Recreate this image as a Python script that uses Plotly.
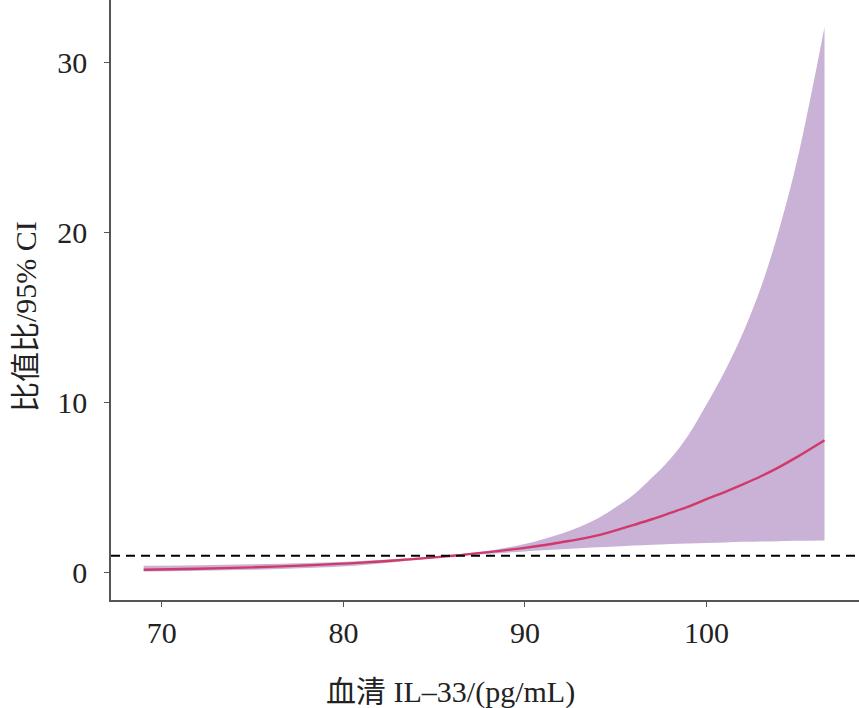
import plotly.graph_objects as go

# serum IL-33 (pg/mL) and odds ratio with 95% CI
il33 = [69, 72, 75, 78, 81, 84, 86, 88, 90, 91, 92, 93, 94, 95, 96, 97, 98, 99, 100,
        101, 102, 103, 104, 105, 106.5]
odds = [0.18, 0.24, 0.32, 0.44, 0.60, 0.82, 1.0, 1.22, 1.47, 1.62, 1.8, 1.98, 2.2, 2.5,
        2.82, 3.15, 3.52, 3.9, 4.33, 4.75, 5.2, 5.68, 6.22, 6.82, 7.8]
ci_upper = [0.42, 0.45, 0.50, 0.58, 0.70, 0.88, 1.05, 1.3, 1.7, 1.98, 2.3, 2.7, 3.2,
            3.85, 4.6, 5.6, 6.7, 8.1, 9.9, 11.85, 14.1, 16.8, 20.2, 24.3, 32.1]
ci_lower = [0.08, 0.12, 0.18, 0.28, 0.45, 0.75, 0.96, 1.12, 1.25, 1.32, 1.38, 1.44, 1.5,
            1.55, 1.6, 1.65, 1.7, 1.73, 1.76, 1.79, 1.82, 1.84, 1.86, 1.88, 1.9]
ref_or = 1

FONT = "Liberation Serif, Times New Roman, Noto Sans CJK SC, serif"

fig = go.Figure()

fig.add_trace(go.Scatter(x=il33, y=ci_lower, mode="lines", line=dict(width=0),
                         line_shape="spline", hoverinfo="skip", showlegend=False))
fig.add_trace(go.Scatter(x=il33, y=ci_upper, mode="lines", line=dict(width=0),
                         line_shape="spline", fill="tonexty", fillcolor="#cab1d6",
                         hoverinfo="skip", showlegend=False))
fig.add_trace(go.Scatter(x=il33, y=odds, mode="lines", line_shape="spline",
                         line=dict(color="#cf3a6b", width=2.4), showlegend=False))

fig.add_hline(y=ref_or, line=dict(color="black", width=2, dash="9px,6px"))

fig.update_layout(
    width=859, height=708,
    margin=dict(l=111, r=0, t=0, b=108),
    paper_bgcolor="white", plot_bgcolor="white",
    font=dict(family=FONT, size=30, color="#222"),
    showlegend=False,
)
fig.update_xaxes(range=[67.2, 108.4], tickvals=[70, 80, 90, 100],
                 showline=True, linecolor="#555", linewidth=1.5,
                 ticks="outside", ticklen=5, tickcolor="#555",
                 showgrid=False, zeroline=False, ticklabelstandoff=0)
fig.update_yaxes(range=[-1.6, 33.7], tickvals=[0, 10, 20, 30],
                 showline=True, linecolor="#555", linewidth=1.5,
                 ticks="outside", ticklen=5, tickcolor="#555",
                 showgrid=False, zeroline=False, ticklabelstandoff=11)

fig.add_annotation(text="血清 IL–33/(pg/mL)", xref="paper", yref="paper",
                   x=(450 - 111) / 748, y=-92 / 600, yanchor="middle",
                   showarrow=False, font=dict(family=FONT, size=30))
fig.add_annotation(text="比值比/95% CI", xref="paper", yref="paper",
                   x=-86 / 748, y=(600 - 317) / 600, textangle=-90,
                   xanchor="center", showarrow=False, font=dict(family=FONT, size=30))

# drop the default page margin so the figure sits at the window's corner
fig.write_html("out.html", config={"displayModeBar": False},
               post_script="document.body.style.margin='0';")
